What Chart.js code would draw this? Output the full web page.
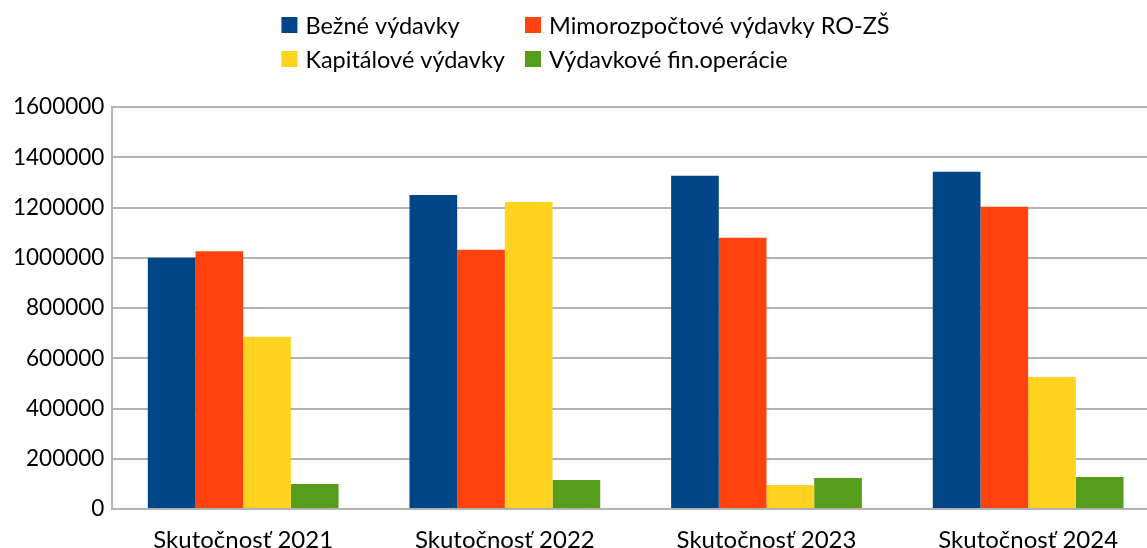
<!DOCTYPE html>
<html>
<head>
<meta charset="utf-8">
<script src="https://cdn.jsdelivr.net/npm/chart.js@4/dist/chart.umd.min.js"></script>
<style>
html,body{margin:0;padding:0;background:#fff;overflow:hidden;}
#wrap{width:1147px;height:548px;position:relative;overflow:hidden;}
</style>
</head>
<body>
<div id="wrap"><canvas id="c" width="1159" height="548"></canvas></div>
<script>
const categories = ["Skutočnosť 2021", "Skutočnosť 2022", "Skutočnosť 2023", "Skutočnosť 2024"];
const seriesNames = ["Bežné výdavky", "Mimorozpočtové výdavky RO-ZŠ", "Kapitálové výdavky", "Výdavkové fin.operácie"];
const bezne = [1000000, 1250000, 1326000, 1342000];
const mimorozpoctove = [1026000, 1032000, 1080000, 1203000];
const kapitalove = [686000, 1222000, 96000, 525000];
const financne = [100000, 115000, 123000, 127000];
const yTicks = [0, 200000, 400000, 600000, 800000, 1000000, 1200000, 1400000, 1600000];
const colors = ["#004586", "#ff420e", "#ffd320", "#579d1c"];

const FONT = "Lato, 'Open Sans', sans-serif";
const VIEW_W = 1147;

const legendPlugin = {
  id: 'gridLegend',
  afterDraw(chart) {
    const ctx = chart.ctx;
    const items = chart.data.datasets.map(d => ({text: d.label, color: d.backgroundColor}));
    ctx.save();
    ctx.font = "23.5px " + FONT;
    ctx.textBaseline = "middle";
    ctx.textAlign = "left";
    const box = 16, gapText = 8, gapCol = 20;
    const colW = [0, 0];
    items.forEach((it, i) => {
      const w = box + gapText + ctx.measureText(it.text).width;
      colW[i % 2] = Math.max(colW[i % 2], w);
    });
    const total = colW[0] + gapCol + colW[1];
    const startX = (VIEW_W - total) / 2 + 12;
    const rowsY = [25, 59];
    items.forEach((it, i) => {
      const col = i % 2, row = Math.floor(i / 2);
      const x = startX + (col === 0 ? 0 : colW[0] + gapCol);
      const y = rowsY[row];
      ctx.fillStyle = it.color;
      ctx.fillRect(x, y - box / 2, box, box);
      ctx.fillStyle = "#000";
      ctx.fillText(it.text, x + box + gapText, y + 1);
    });
    ctx.restore();
  }
};

const datasetsData = [bezne, mimorozpoctove, kapitalove, financne];

new Chart(document.getElementById('c'), {
  type: 'bar',
  data: {
    labels: categories,
    datasets: seriesNames.map((n, i) => ({
      label: n,
      data: datasetsData[i],
      backgroundColor: colors[i],
      borderWidth: 0,
      barPercentage: 1.0,
      categoryPercentage: 0.729
    }))
  },
  options: {
    responsive: false,
    animation: false,
    devicePixelRatio: 1,
    layout: { padding: { top: 107, right: 0, left: 5, bottom: -23 } },
    plugins: {
      legend: { display: false },
      tooltip: { enabled: false }
    },
    scales: {
      x: {
        grid: { display: false, drawTicks: false },
        border: { display: true, color: '#b3b3b3', width: 2 },
        ticks: { color: '#000', font: { family: FONT, size: 24, lineHeight: 1.0 }, padding: 19, maxRotation: 0 }
      },
      y: {
        min: 0,
        max: 1600000,
        afterBuildTicks(axis) { axis.ticks = yTicks.map(v => ({ value: v })); },
        grid: { color: '#b3b3b3', lineWidth: 2, drawTicks: false },
        border: { display: true, color: '#b3b3b3', width: 2 },
        ticks: { color: '#000', font: { family: FONT, size: 22.5 }, padding: 8, callback: v => String(v) }
      }
    }
  },
  plugins: [legendPlugin]
});
</script>
</body>
</html>
